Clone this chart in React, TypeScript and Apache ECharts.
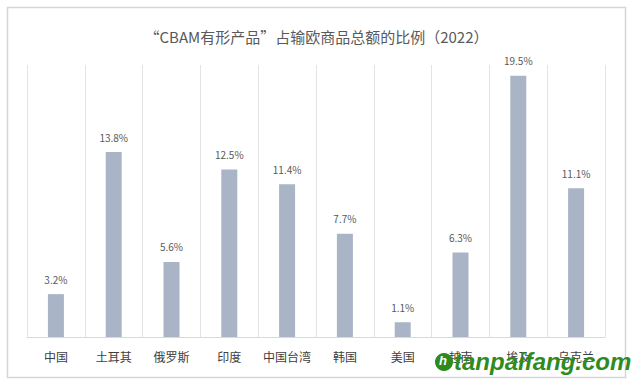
import React, { useEffect, useRef } from "react";
import * as echarts from "echarts";

const categories = ["中国", "土耳其", "俄罗斯", "印度", "中国台湾", "韩国", "美国", "越南", "埃及", "乌克兰"];
const values = [3.2, 13.8, 5.6, 12.5, 11.4, 7.7, 1.1, 6.3, 19.5, 11.1];
const titleText = "“CBAM有形产品”占输欧商品总额的比例（2022）";
const watermark = "tanpaifang.com";

export default function App() {
  const ref = useRef<HTMLDivElement>(null);
  useEffect(() => {
    const chart = echarts.init(ref.current!, null, { renderer: "svg" });
    chart.setOption({
      animation: false,
      backgroundColor: "#ffffff",
      title: {
        text: titleText,
        left: "center",
        top: 24,
        textStyle: {
          fontFamily: "Noto Sans CJK SC",
          fontSize: 15,
          fontWeight: "normal",
          color: "#595959",
        },
      },
      grid: { left: 27, right: 28, top: 65, bottom: 48, containLabel: false },
      xAxis: {
        type: "category",
        data: categories,
        boundaryGap: true,
        axisLine: { show: true, lineStyle: { color: "#d9d9d9", width: 1 } },
        axisTick: { show: false },
        splitLine: { show: true, lineStyle: { color: "#e3e3e3", width: 1 } },
        axisLabel: {
          fontFamily: "Noto Sans CJK SC",
          fontSize: 12,
          color: "#404040",
          margin: 13,
          interval: 0,
        },
      },
      yAxis: {
        type: "value",
        min: 0,
        max: 20.3,
        show: false,
        splitLine: { show: false },
      },
      series: [
        {
          type: "bar",
          data: values,
          barWidth: 16,
          itemStyle: { color: "#a9b4c7" },
          label: {
            show: true,
            position: "top",
            distance: 10,
            formatter: (p: any) => p.value.toFixed(1) + "%",
            fontFamily: "Noto Sans CJK SC",
            fontSize: 10,
            color: "#595959",
          },
        },
      ],
      graphic: [
        {
          type: "rect",
          shape: { x: 7.5, y: 7.5, width: 618, height: 370 },
          style: { fill: "none", stroke: "#d6d6d6", lineWidth: 1.5 },
          silent: true,
        },
        {
          type: "circle",
          shape: { cx: 444, cy: 362, r: 9 },
          style: { fill: "#2f8a1e" },
          z: 100,
        },
        {
          type: "text",
          x: 439,
          y: 354,
          style: { text: "h", fill: "#ffffff", font: "bold italic 13px Liberation Sans" },
          z: 101,
        },
        {
          type: "text",
          x: 454,
          y: 349,
          style: {
            text: watermark,
            fill: "#2e8b1f",
            font: "italic bold 24px Liberation Sans",
          },
          z: 100,
        },
      ],
    });
    return () => chart.dispose();
  }, []);
  return (
    <div
      ref={ref}
      style={{ position: "fixed", left: 0, top: 0, width: 633, height: 385 }}
    />
  );
}
